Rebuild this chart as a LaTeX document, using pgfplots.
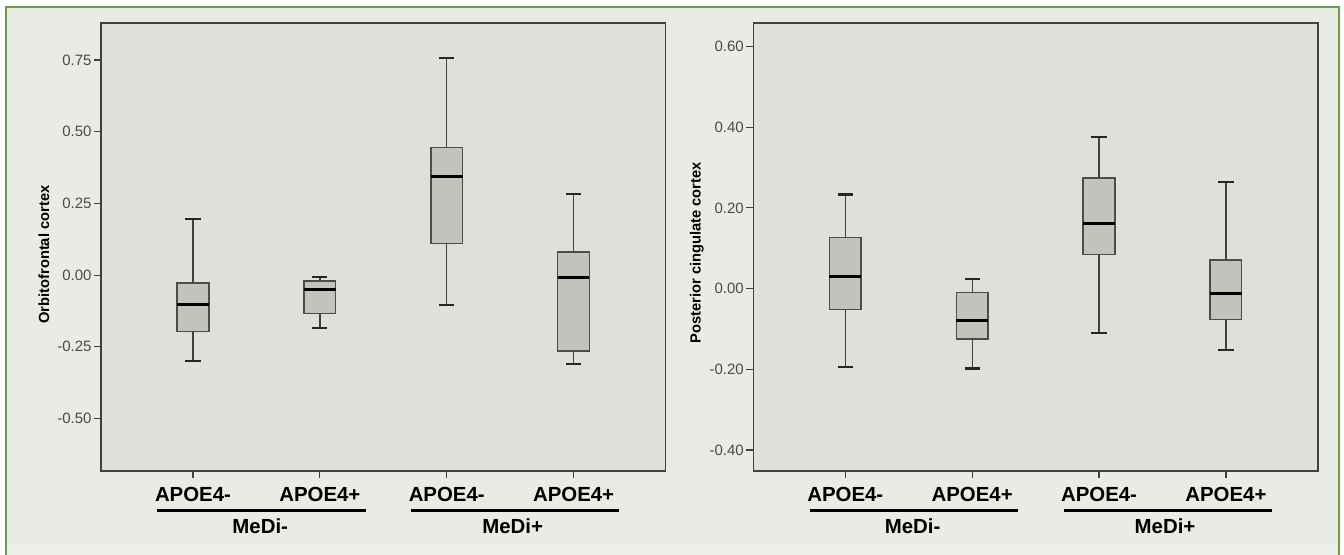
\documentclass[border=0pt]{standalone}
\usepackage{pgfplots}
\pgfplotsset{compat=1.18}
\usepgfplotslibrary{statistics}
\usepackage{fontspec}
\setmainfont{Liberation Sans}
\definecolor{outerbg}{HTML}{E8EBE6}
\definecolor{plotbg}{HTML}{DDE0DB}
\definecolor{boxfill}{HTML}{C1C3BE}
\definecolor{framegreen}{HTML}{6E9A4C}
\definecolor{ticktext}{HTML}{4A4A4A}
\definecolor{bottomband}{HTML}{ECEEEA}

\pgfplotsset{
  spssbox/.style={
    scale only axis, width=282.3pt, height=224pt,
    xmin=0.275, xmax=4.725,
    axis background/.style={fill=plotbg},
    axis line style={draw=black!75, line width=0.75pt},
    xtick={1,2,3,4},
    xticklabels={APOE4-,APOE4+,APOE4-,APOE4+},
    xticklabel style={font=\fontsize{10.2}{12}\selectfont\bfseries, text=black, anchor=north, inner sep=0pt, yshift=-4.25pt},
    yticklabel style={font=\fontsize{7.5}{9}\selectfont, text=ticktext, inner sep=0.8pt},
    /pgf/number format/assume math mode=true,
    /pgf/number format/fixed,
    /pgf/number format/fixed zerofill,
    /pgf/number format/precision=2,
    tick align=outside, major tick length=3.75pt,
    tick style={draw=black!75, line width=0.6pt},
    xtick pos=bottom, ytick pos=left,
    ylabel style={font=\fontsize{7.35}{9}\selectfont\bfseries, anchor=center},
    clip=false,
    boxplot/draw direction=y,
    boxplot/box extend=0.25,
    boxplot/whisker extend=0.12,
    boxplot/every box/.style={draw=black!70, line width=0.7pt, fill=boxfill},
    boxplot/every whisker/.style={draw=black!75, line width=0.65pt},
    boxplot/every median/.style={draw=black, line width=1.5pt},
    boxplot/draw/upper whisker/.code={%
      \draw[/pgfplots/boxplot/every whisker/.try]
        (boxplot box cs:\pgfplotsboxplotvalue{upper quartile},0.5) --
        (boxplot box cs:\pgfplotsboxplotvalue{upper whisker},0.5);
      \draw[draw=black!85, line width=1.05pt]
        (boxplot whisker cs:\pgfplotsboxplotvalue{upper whisker},0) --
        (boxplot whisker cs:\pgfplotsboxplotvalue{upper whisker},1);
    },
    boxplot/draw/lower whisker/.code={%
      \draw[/pgfplots/boxplot/every whisker/.try]
        (boxplot box cs:\pgfplotsboxplotvalue{lower quartile},0.5) --
        (boxplot box cs:\pgfplotsboxplotvalue{lower whisker},0.5);
      \draw[draw=black!85, line width=1.05pt]
        (boxplot whisker cs:\pgfplotsboxplotvalue{lower whisker},0) --
        (boxplot whisker cs:\pgfplotsboxplotvalue{lower whisker},1);
    },
  }
}

\begin{document}
\begin{tikzpicture}
\useasboundingbox (0,0) rectangle (672pt,277.5pt);
\fill[white] (0,0) rectangle (672pt,277.5pt);
\fill[outerbg] (2.85pt,-5pt) rectangle (669.5pt,274.15pt);
\fill[bottomband] (3.5pt,0pt) rectangle (669pt,5.5pt);
\draw[framegreen, line width=1pt] (2.85pt,-5pt) rectangle (669.5pt,274.15pt);

% Left panel
\begin{axis}[spssbox, at={(50.5pt,42pt)}, anchor=south west,
  ymin=-0.683, ymax=0.879,
  ytick={-0.5,-0.25,0,0.25,0.5,0.75},
  ylabel={Orbitofrontal cortex},
  ylabel style={at={(rel axis cs:-0.101,0.483)}},
]
\addplot+[boxplot prepared={draw position=1, lower whisker=-0.300, lower quartile=-0.197, median=-0.104, upper quartile=-0.027, upper whisker=0.197}, black] coordinates {};
\addplot+[boxplot prepared={draw position=2, lower whisker=-0.185, lower quartile=-0.134, median=-0.049, upper quartile=-0.021, upper whisker=-0.006}, black] coordinates {};
\addplot+[boxplot prepared={draw position=3, lower whisker=-0.103, lower quartile=0.110, median=0.345, upper quartile=0.444, upper whisker=0.757}, black] coordinates {};
\addplot+[boxplot prepared={draw position=4, lower whisker=-0.309, lower quartile=-0.264, median=-0.009, upper quartile=0.081, upper whisker=0.282}, black] coordinates {};
\draw[line width=1.5pt] ([yshift=-20pt]axis cs:0.72,-0.683) -- ([yshift=-20pt]axis cs:2.36,-0.683);
\draw[line width=1.5pt] ([yshift=-20pt]axis cs:2.72,-0.683) -- ([yshift=-20pt]axis cs:4.36,-0.683);
\node[font=\fontsize{10.2}{12}\selectfont\bfseries] at ([yshift=-27.5pt]axis cs:1.53,-0.683) {MeDi-};
\node[font=\fontsize{10.2}{12}\selectfont\bfseries] at ([yshift=-27.5pt]axis cs:3.52,-0.683) {MeDi+};
\end{axis}

% Right panel
\begin{axis}[spssbox, at={(376.65pt,42pt)}, anchor=south west,
  ymin=-0.452, ymax=0.658,
  ytick={-0.4,-0.2,0,0.2,0.4,0.6},
  ylabel={Posterior cingulate cortex},
  ylabel style={at={(rel axis cs:-0.0998,0.487)}},
]
\addplot+[boxplot prepared={draw position=1, lower whisker=-0.195, lower quartile=-0.052, median=0.031, upper quartile=0.127, upper whisker=0.233}, black] coordinates {};
\addplot+[boxplot prepared={draw position=2, lower whisker=-0.198, lower quartile=-0.125, median=-0.080, upper quartile=-0.010, upper whisker=0.024}, black] coordinates {};
\addplot+[boxplot prepared={draw position=3, lower whisker=-0.110, lower quartile=0.085, median=0.160, upper quartile=0.274, upper whisker=0.375}, black] coordinates {};
\addplot+[boxplot prepared={draw position=4, lower whisker=-0.152, lower quartile=-0.077, median=-0.013, upper quartile=0.071, upper whisker=0.265}, black] coordinates {};
\draw[line width=1.5pt] ([yshift=-20pt]axis cs:0.72,-0.452) -- ([yshift=-20pt]axis cs:2.36,-0.452);
\draw[line width=1.5pt] ([yshift=-20pt]axis cs:2.72,-0.452) -- ([yshift=-20pt]axis cs:4.36,-0.452);
\node[font=\fontsize{10.2}{12}\selectfont\bfseries] at ([yshift=-27.5pt]axis cs:1.53,-0.452) {MeDi-};
\node[font=\fontsize{10.2}{12}\selectfont\bfseries] at ([yshift=-27.5pt]axis cs:3.52,-0.452) {MeDi+};
\end{axis}
\end{tikzpicture}
\end{document}
